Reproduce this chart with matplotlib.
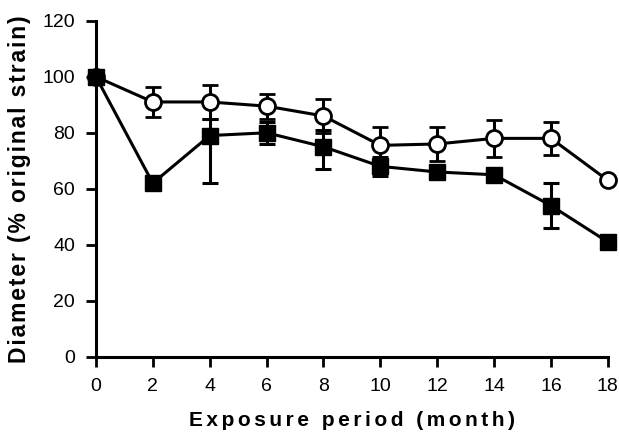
import matplotlib
matplotlib.use("Agg")
import matplotlib.pyplot as plt
from matplotlib import font_manager

# ---- DATA ----
months = [0, 2, 4, 6, 8, 10, 12, 14, 16, 18]

circle_vals = [100, 91, 91, 89.5, 86, 75.5, 76, 78, 78, 63]
circle_err = [0, 5.5, 6, 4.5, 6, 6.5, 6, 6.5, 6, 0]

square_vals = [100, 62, 79, 80, 75, 68, 66, 65, 54, 41]
square_err_lo = [0, 0, 17, 4, 8, 3.5, 0, 0, 8, 0]
square_err_hi = [0, 0, 6, 4, 6, 3.5, 0, 0, 8, 0]

y_ticks = [0, 20, 40, 60, 80, 100, 120]


def spaced(text, gap="\u200a"):
    # letter spacing with hair spaces
    return gap.join(text)


# ---- PLOT ----
names = {f.name for f in font_manager.fontManager.ttflist}
tick_font = "Liberation Sans Narrow" if "Liberation Sans Narrow" in names else "Liberation Sans"
plt.rcParams["font.family"] = ["Liberation Sans", "DejaVu Sans"]

fig = plt.figure(figsize=(6.19, 4.32), dpi=100)
ax = fig.add_axes([0.155, 0.174, 0.827, 0.778])

ax.errorbar(months, circle_vals, yerr=circle_err, color="black",
            marker="o", markersize=11.5, markerfacecolor="white", markeredgecolor="black",
            markeredgewidth=2, linewidth=2.2, elinewidth=2.2, capsize=6, capthick=2.2,
            zorder=2, clip_on=False)
ax.errorbar(months, square_vals, yerr=[square_err_lo, square_err_hi], color="black",
            marker="s", markersize=12, markerfacecolor="black", markeredgecolor="black",
            linewidth=2.2, elinewidth=2.2, capsize=6, capthick=2.2, zorder=3, clip_on=False)

ax.set_xlim(0, 18)
ax.set_ylim(0, 120)
ax.set_xticks(months)
ax.set_yticks(y_ticks)
ax.tick_params(direction="out", length=7, width=2, labelsize=14, pad=8)
for lab in ax.get_xticklabels() + ax.get_yticklabels():
    lab.set_fontfamily(tick_font)
for s in ["top", "right"]:
    ax.spines[s].set_visible(False)
for s in ["left", "bottom"]:
    ax.spines[s].set_linewidth(2.2)

ax.set_xlabel(spaced("Exposure period (month)", "\u200a\u200a"), fontsize=15,
              fontweight="bold", labelpad=12)
ax.set_ylabel(spaced("Diameter (% original strain)"), fontsize=16.5, fontweight="bold", labelpad=8)

fig.savefig("out.png", dpi=100)
